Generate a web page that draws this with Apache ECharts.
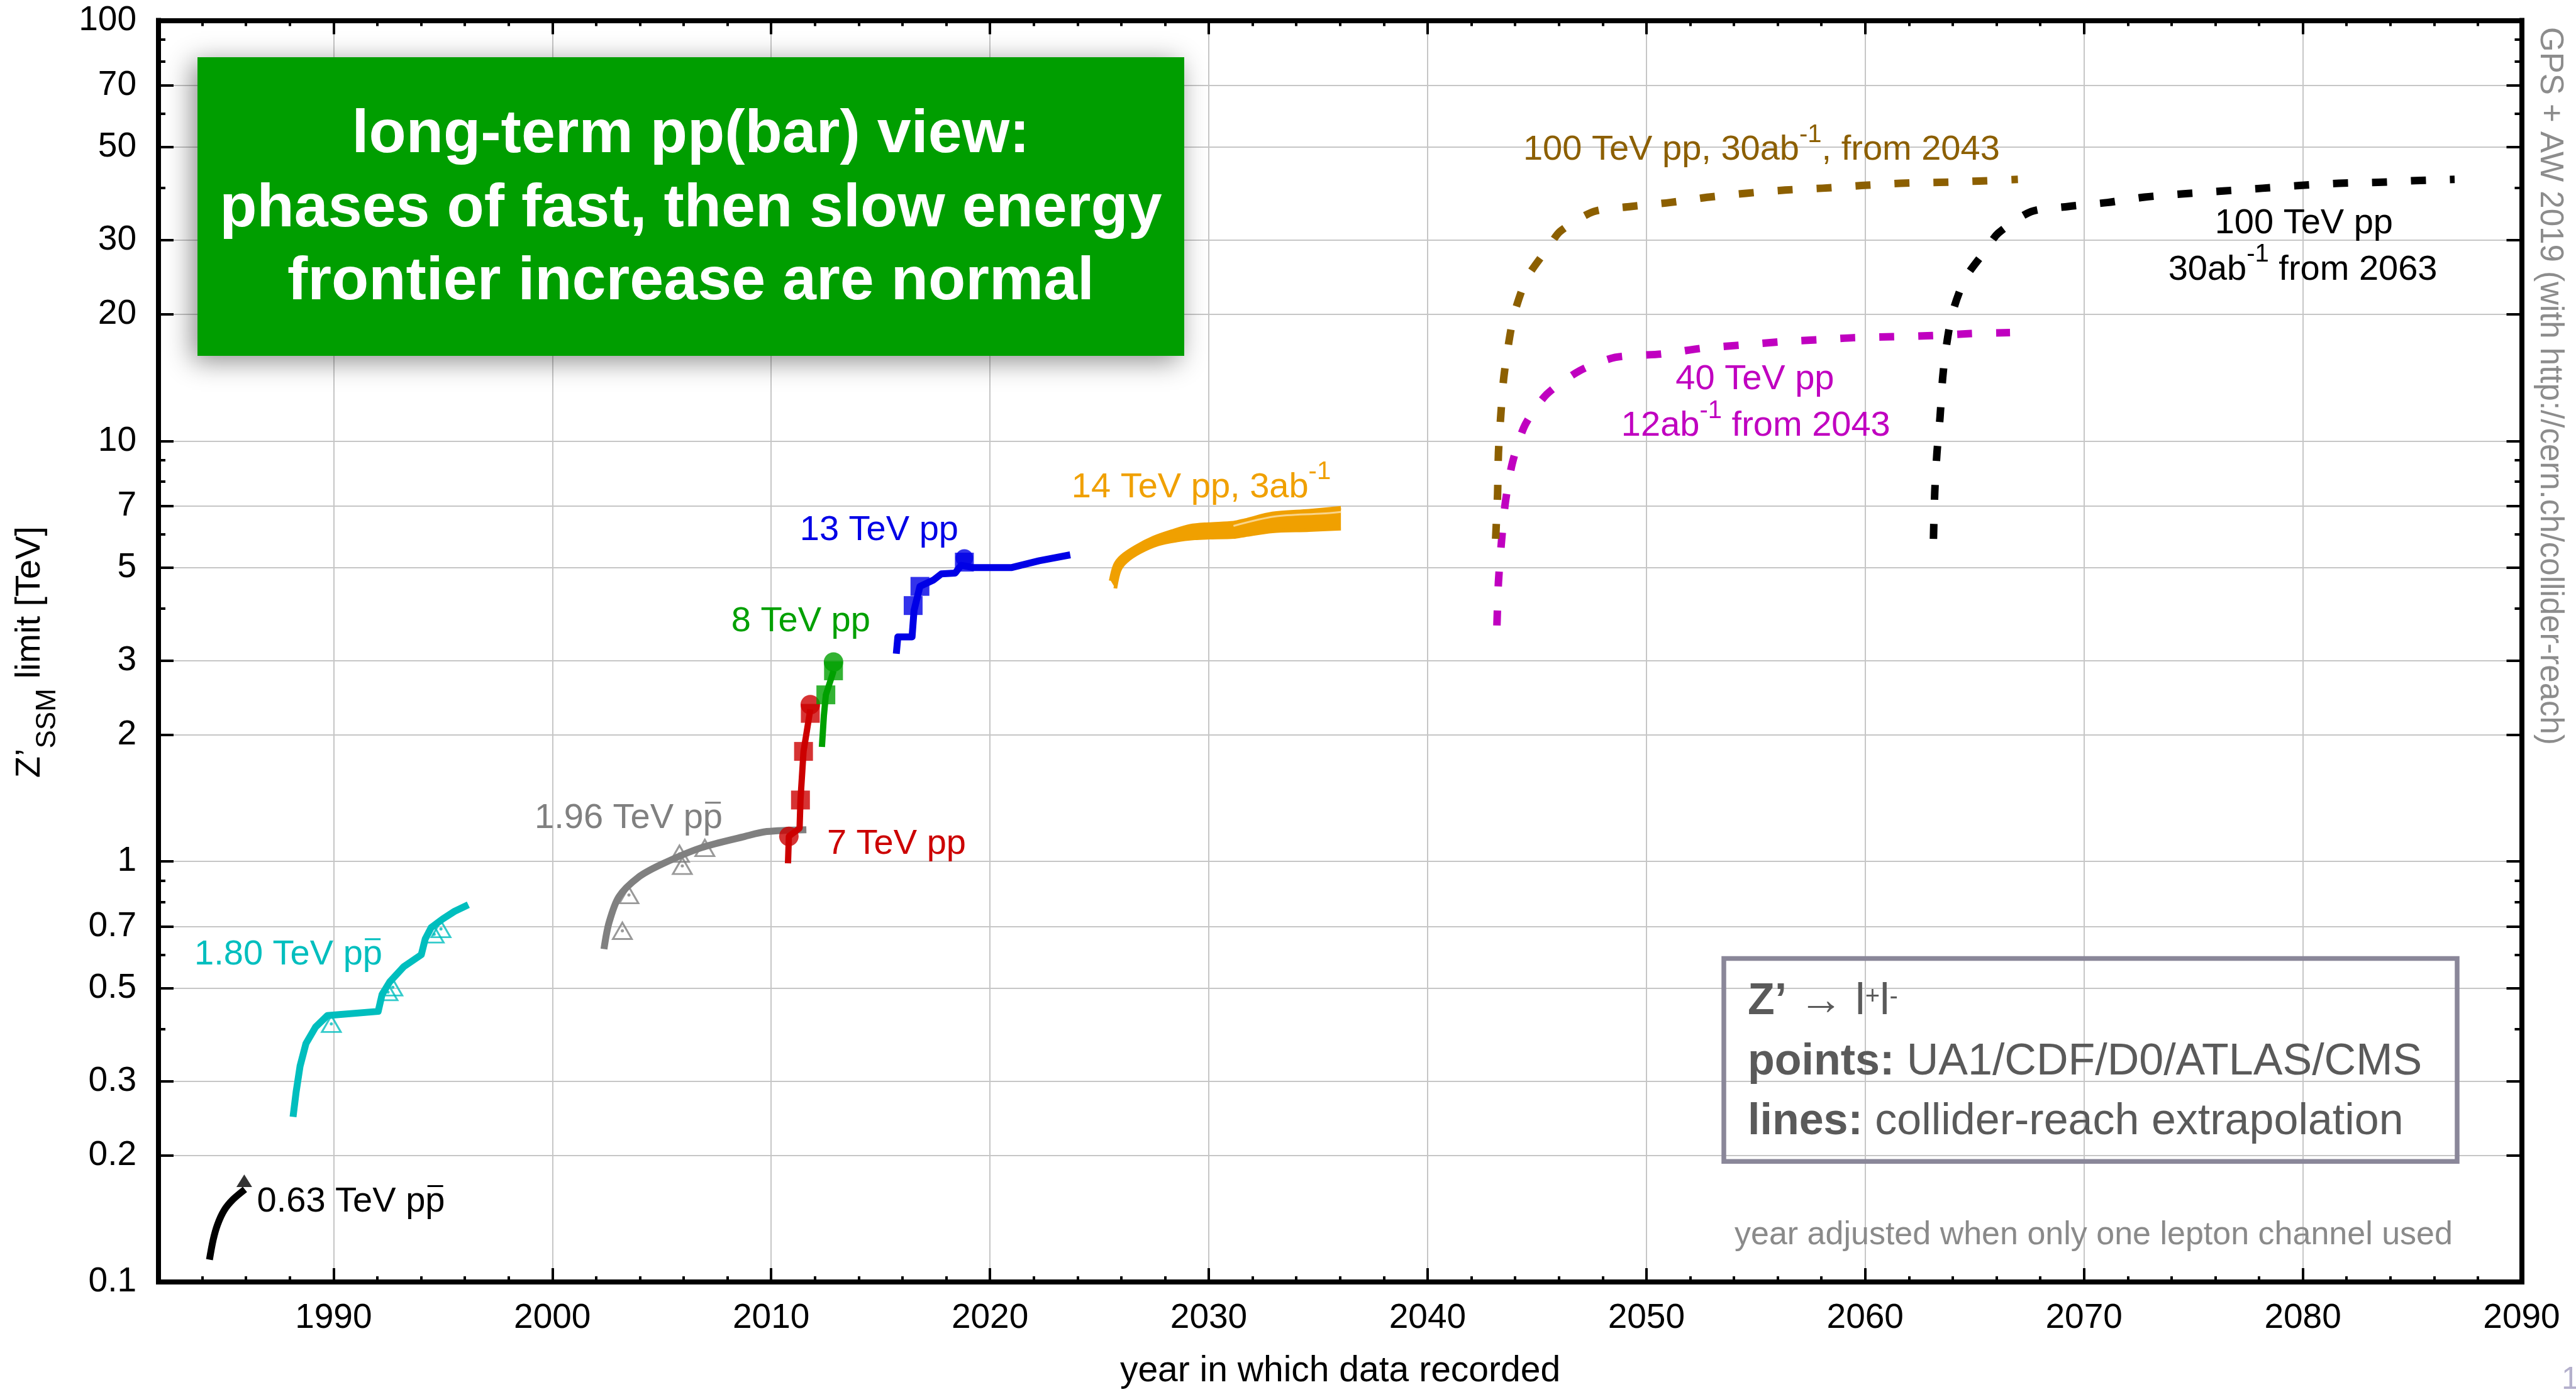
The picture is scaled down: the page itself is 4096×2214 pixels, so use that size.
<!DOCTYPE html>
<html>
<head>
<meta charset="utf-8">
<script src="https://cdn.jsdelivr.net/npm/echarts@6/dist/echarts.min.js"></script>
<style>
  html, body { margin: 0; padding: 0; background: #ffffff; }
  #chart { width: 4096px; height: 2214px; }
</style>
</head>
<body>
<div id="chart"></div>
<script>
// ---------- axis ticks ----------
const yMajorTicks  = [0.1, 0.2, 0.3, 0.5, 0.7, 1, 2, 3, 5, 7, 10, 20, 30, 50, 70, 100];
const yMajorLabels = ['0.1', '0.2', '0.3', '0.5', '0.7', '1', '2', '3', '5', '7', '10', '20', '30', '50', '70', '100'];
const yMinorTicks  = [0.4, 0.6, 0.8, 0.9, 4, 6, 8, 9, 40, 60, 80, 90];
const xMajorTicks  = [1990, 2000, 2010, 2020, 2030, 2040, 2050, 2060, 2070, 2080, 2090];
const xMajorLabels = ['1990', '2000', '2010', '2020', '2030', '2040', '2050', '2060', '2070', '2080', '2090'];
const xMinorTicks  = [1984, 1986, 1988, 1992, 1994, 1996, 1998, 2002, 2004, 2006, 2008,
                      2012, 2014, 2016, 2018, 2022, 2024, 2026, 2028, 2032, 2034, 2036, 2038,
                      2042, 2044, 2046, 2048, 2052, 2054, 2056, 2058, 2062, 2064, 2066, 2068,
                      2072, 2074, 2076, 2078, 2082, 2084, 2086, 2088];

// ---------- limits: [year, Z'_SSM limit in TeV] ----------
const sps063 = [[1984.33, 0.113], [1984.5, 0.126], [1984.7, 0.137], [1985.0, 0.148], [1985.4, 0.157], [1985.95, 0.166]];
const sps063Arrow = [[1985.92, 0.174]];

const tev180 = [[1988.15, 0.247], [1988.29, 0.283], [1988.47, 0.326], [1988.74, 0.369], [1989.18, 0.404],
                [1989.72, 0.430], [1992.04, 0.440], [1992.22, 0.483], [1992.58, 0.518], [1993.21, 0.562],
                [1994.01, 0.600], [1994.19, 0.654], [1994.46, 0.696], [1994.99, 0.730], [1995.53, 0.761],
                [1996.16, 0.789]];
const tev180Points = [[1989.9, 0.411], [1992.49, 0.489], [1992.71, 0.502], [1994.60, 0.671], [1994.91, 0.691]];

const tev196 = [[2002.36, 0.619], [2002.59, 0.715], [2003.04, 0.824], [2003.93, 0.917], [2005.0, 0.985],
                [2006.78, 1.077], [2008.8, 1.147], [2009.8, 1.178], [2011.61, 1.19]];
const tev196Points = [[2003.2, 0.684], [2003.5, 0.832], [2005.94, 0.976], [2005.81, 1.043], [2006.97, 1.077]];

const lhc7 = [[2010.77, 0.99], [2010.81, 1.147], [2011.3, 1.20], [2011.34, 1.40], [2011.48, 1.827], [2011.61, 2.01], [2011.79, 2.30]];
const lhc7Squares = [[2011.34, 1.40], [2011.48, 1.827], [2011.79, 2.25]];
const lhc7Circles = [[2010.81, 1.147], [2011.79, 2.36]];

const lhc8 = [[2012.32, 1.872], [2012.41, 2.22], [2012.50, 2.49], [2012.77, 2.75], [2012.85, 2.84]];
const lhc8Squares = [[2012.50, 2.49], [2012.85, 2.84]];
const lhc8Circles = [[2012.85, 2.98]];

const lhc13 = [[2015.72, 3.12], [2015.79, 3.42], [2016.44, 3.42], [2016.53, 3.95], [2016.80, 4.51],
               [2017.42, 4.67], [2017.78, 4.83], [2018.41, 4.85], [2018.68, 5.06], [2019.21, 5.00],
               [2021.0, 5.00], [2022.25, 5.19], [2023.67, 5.36]];
const lhc13Squares = [[2016.49, 4.06], [2016.80, 4.51], [2018.83, 5.15]];
const lhc13Circles = [[2018.83, 5.27]];

const hl14Upper = [[2025.52, 4.65], [2025.71, 5.07], [2026.02, 5.32], [2026.65, 5.60], [2027.48, 5.89],
                   [2028.32, 6.10], [2029.15, 6.28], [2029.99, 6.34], [2031.13, 6.39], [2031.66, 6.48],
                   [2032.91, 6.72], [2034.58, 6.82], [2036.04, 6.93]];
const hl14Lower = [[2025.73, 4.46], [2025.92, 4.92], [2026.23, 5.17], [2026.86, 5.44], [2027.69, 5.68],
                   [2028.53, 5.80], [2029.36, 5.87], [2029.99, 5.89], [2031.13, 5.91], [2031.66, 5.97],
                   [2032.91, 6.10], [2034.58, 6.14], [2036.04, 6.19]];
const hl14Inner = [[2031.13, 6.28], [2033.01, 6.61], [2035.2, 6.72], [2036.04, 6.78]];

const fcc100from2043 = [[2043.11, 5.85], [2043.20, 7.48], [2043.24, 9.38], [2043.34, 11.38], [2043.47, 13.94],
                        [2043.65, 16.37], [2043.95, 19.95], [2044.54, 24.4], [2045.53, 28.9], [2046.06, 31.5],
                        [2047.58, 35.1], [2049.28, 36.1], [2051.07, 36.9], [2052.86, 38.0], [2054.55, 38.8],
                        [2056.34, 39.5], [2058.04, 39.9], [2059.83, 40.5], [2061.62, 41.0], [2063.40, 41.2],
                        [2065.19, 41.5], [2066.98, 41.9]];
const pp40from2043 = [[2043.17, 3.64], [2043.24, 4.62], [2043.38, 5.78], [2043.56, 7.17], [2043.88, 8.88],
                      [2044.45, 10.9], [2045.44, 12.9], [2046.96, 14.7], [2048.57, 15.8], [2050.71, 16.1],
                      [2052.50, 16.6], [2054.29, 16.9], [2056.08, 17.2], [2057.86, 17.4], [2059.47, 17.6],
                      [2061.26, 17.7], [2063.05, 17.8], [2064.83, 18.0], [2066.62, 18.1]];
const fcc100from2063 = [[2063.12, 5.85], [2063.18, 7.56], [2063.28, 9.37], [2063.42, 11.37], [2063.54, 14.1],
                        [2063.68, 16.4], [2063.98, 20.1], [2064.58, 24.4], [2065.48, 28.3], [2066.08, 31.2],
                        [2067.58, 35.1], [2069.27, 36.1], [2071.07, 36.9], [2072.77, 38.0], [2074.56, 38.7],
                        [2076.36, 39.3], [2078.16, 39.9], [2079.85, 40.5], [2081.65, 41.0], [2083.44, 41.2],
                        [2085.14, 41.6], [2086.94, 41.9]];

// ---------- styling ----------
const FONT = '"Liberation Sans", Arial, Helvetica, sans-serif';
const C = {
  black: '#000000', cyan: '#00bebe', gray: '#808080', red: '#cc0000', green: '#00a000',
  blue: '#0000e6', orange: '#f0a000', orangeLight: '#f9d48a', brown: '#8c5f00', magenta: '#c000c0'
};
const GRID = { left: 252, right: 86.5, top: 32.5, bottom: 175 };
const AXIS_W = 8;

function fontStr(size, bold) { return (bold ? 'bold ' : '') + size + 'px ' + FONT; }
const measureCtx = document.createElement('canvas').getContext('2d');
function textW(s, size, bold) { measureCtx.font = fontStr(size, bold); return measureCtx.measureText(s).width; }

function makeXAxis(position, ticks, tickLen, labels, line, split) {
  return {
    type: 'value', min: 1982, max: 2090, position: position,
    axisLine: { show: line, onZero: false, lineStyle: { color: '#000', width: AXIS_W, cap: 'square' } },
    axisTick: { show: true, inside: true, length: tickLen, customValues: ticks, lineStyle: { color: '#000', width: 4 } },
    axisLabel: labels ? {
      show: true, customValues: ticks, margin: 30, fontSize: 55, fontFamily: FONT, color: '#000',
      formatter: function (v) { const i = xMajorTicks.indexOf(Math.round(v)); return i >= 0 ? xMajorLabels[i] : ''; }
    } : { show: false },
    splitLine: { show: split, lineStyle: { color: '#c6c6c6', width: 2 } },
    minorTick: { show: false }, minorSplitLine: { show: false }
  };
}
function makeYAxis(position, ticks, tickLen, labels, line, split) {
  return {
    type: 'log', logBase: 10, min: 0.1, max: 100, position: position,
    axisLine: { show: line, onZero: false, lineStyle: { color: '#000', width: AXIS_W, cap: 'square' } },
    axisTick: { show: true, inside: true, length: tickLen, customValues: ticks, lineStyle: { color: '#000', width: 4 } },
    axisLabel: labels ? {
      show: true, customValues: ticks, margin: 35, fontSize: 55, fontFamily: FONT, color: '#000',
      formatter: function (v) {
        const i = yMajorTicks.findIndex(t => Math.abs(Math.log10(t) - Math.log10(v)) < 1e-6);
        return i >= 0 ? yMajorLabels[i] : '';
      }
    } : { show: false },
    splitLine: { show: split, lineStyle: { color: '#c6c6c6', width: 2 } },
    minorTick: { show: false }, minorSplitLine: { show: false }
  };
}

function lineSeries(data, color, width, extra) {
  return Object.assign({
    type: 'line', data: data, symbol: 'none', showSymbol: false, silent: true, z: 3,
    lineStyle: { color: color, width: width, cap: 'butt', join: 'round' }
  }, extra || {});
}
function dashedSeries(data, color) {
  return lineSeries(data, color, 12, { smooth: 0.25, lineStyle: { color: color, width: 12, type: [24, 38], cap: 'butt', join: 'round' } });
}
function markerSeries(data, symbol, size, itemStyle, z) {
  return { type: 'scatter', data: data, symbol: symbol, symbolSize: size, silent: true, z: z || 5, itemStyle: itemStyle };
}
function triangleSeries(data, color) {
  return [
    markerSeries(data, 'triangle', [30, 26], { color: 'rgba(0,0,0,0)', borderColor: color, borderWidth: 3 }, 5),
    markerSeries(data, 'circle', 5, { color: color }, 6)
  ];
}

const series = [
  // 14 TeV band
  {
    type: 'custom', silent: true, z: 2, data: [[2030, 6]],
    renderItem: function (params, api) {
      const pts = hl14Upper.map(p => api.coord(p)).concat(hl14Lower.slice().reverse().map(p => api.coord(p)));
      return { type: 'polygon', shape: { points: pts }, style: { fill: C.orange } };
    }
  },
  lineSeries(hl14Upper, C.orange, 6, { smooth: 0.3 }),
  lineSeries(hl14Lower, C.orange, 6, { smooth: 0.3 }),
  lineSeries(hl14Inner, C.orangeLight, 3, { smooth: 0.3, z: 4 }),

  // Tevatron and SppS
  lineSeries(sps063, C.black, 11, { smooth: 0.3 }),
  markerSeries(sps063Arrow, 'triangle', [25, 20], { color: C.black }),
  lineSeries(tev180, C.cyan, 11),
  ...triangleSeries(tev180Points, C.cyan),
  lineSeries(tev196, C.gray, 11, { smooth: 0.3 }),
  ...triangleSeries(tev196Points, C.gray),

  // LHC
  lineSeries(lhc7, C.red, 10),
  markerSeries(lhc7Circles, 'circle', 31, { color: C.red }),
  markerSeries(lhc7Squares, 'rect', 30, { color: C.red }),
  lineSeries(lhc8, C.green, 10),
  markerSeries(lhc8Circles, 'circle', 31, { color: C.green }),
  markerSeries(lhc8Squares, 'rect', 30, { color: C.green }),
  lineSeries(lhc13, C.blue, 11),
  markerSeries(lhc13Circles, 'circle', 28, { color: C.blue }),
  markerSeries(lhc13Squares, 'rect', 30, { color: C.blue }),

  // future colliders
  dashedSeries(pp40from2043, C.magenta),
  dashedSeries(fcc100from2043, C.brown),
  dashedSeries(fcc100from2063, C.black)
];

const chart = echarts.init(document.getElementById('chart'), null, { renderer: 'canvas', width: 4096, height: 2214 });

chart.setOption({
  animation: false,
  backgroundColor: '#ffffff',
  grid: Object.assign({ containLabel: false, outerBoundsMode: 'none' }, GRID),
  xAxis: [
    makeXAxis('bottom', xMajorTicks, 22, true, true, true),
    makeXAxis('bottom', xMinorTicks, 9, false, false, false),
    makeXAxis('top', xMajorTicks, 22, false, true, false),
    makeXAxis('top', xMinorTicks, 9, false, false, false)
  ],
  yAxis: [
    makeYAxis('left', yMajorTicks, 24, true, true, true),
    makeYAxis('left', yMinorTicks, 11, false, false, false),
    makeYAxis('right', yMajorTicks, 24, false, true, false),
    makeYAxis('right', yMinorTicks, 11, false, false, false)
  ],
  series: series
});

// ---------- text annotations ----------
// parts: {t, bold, size, dy, bar}; bar draws an overline (antiparticle)
function textRun(parts, x, y, size, color, align, z) {
  const ws = parts.map(p => textW(p.t, p.size || size, p.bold));
  const total = ws.reduce((a, b) => a + b, 0);
  let cx = align === 'center' ? x - total / 2 : (align === 'right' ? x - total : x);
  const out = [];
  parts.forEach((p, i) => {
    const s = p.size || size;
    out.push({
      type: 'text', x: cx, y: y + (p.dy || 0), z: z || 60, silent: true,
      style: { text: p.t, font: fontStr(s, p.bold), fill: color,
               align: 'left', verticalAlign: 'middle', textAlign: 'left', textVerticalAlign: 'middle' }
    });
    if (p.bar) {
      out.push({
        type: 'line', z: z || 60, silent: true,
        shape: { x1: cx + 0.06 * s, y1: y - 0.45 * s, x2: cx + ws[i] - 0.05 * s, y2: y - 0.45 * s },
        style: { stroke: color, lineWidth: 3 }
      });
    }
    cx += ws[i];
  });
  return out;
}

const LBL = 56;
const SUP = { size: 40, dy: -24 };
const annotations = [
  { parts: [{ t: '0.63 TeV p' }, { t: 'p', bar: true }], at: [1986.5, 0.155], align: 'left', color: C.black },
  { parts: [{ t: '1.80 TeV p' }, { t: 'p', bar: true }], at: [1983.64, 0.599], align: 'left', color: C.cyan },
  { parts: [{ t: '1.96 TeV p' }, { t: 'p', bar: true }], at: [1999.19, 1.265], align: 'left', color: C.gray },
  { parts: [{ t: '7 TeV pp' }], at: [2012.55, 1.10], align: 'left', color: C.red },
  { parts: [{ t: '8 TeV pp' }], at: [2008.18, 3.72], align: 'left', color: C.green },
  { parts: [{ t: '13 TeV pp' }], at: [2011.31, 6.12], align: 'left', color: C.blue },
  { parts: [{ t: '14 TeV pp, 3ab' }, Object.assign({ t: '-1' }, SUP)], at: [2023.73, 7.75], align: 'left', color: C.orange },
  { parts: [{ t: '100 TeV pp, 30ab' }, Object.assign({ t: '-1' }, SUP), { t: ', from 2043' }], at: [2044.37, 49.2], align: 'left', color: C.brown },
  { parts: [{ t: '40 TeV pp' }], at: [2054.96, 13.98], align: 'center', color: C.magenta },
  { parts: [{ t: '12ab' }, Object.assign({ t: '-1' }, SUP), { t: ' from 2043' }], at: [2055.0, 10.85], align: 'center', color: C.magenta },
  { parts: [{ t: '100 TeV pp' }], at: [2080.05, 32.9], align: 'center', color: C.black },
  { parts: [{ t: '30ab' }, Object.assign({ t: '-1' }, SUP), { t: ' from 2063' }], at: [2080.0, 25.5], align: 'center', color: C.black }
];

let graphics = [];
annotations.forEach(a => {
  const p = chart.convertToPixel({ xAxisIndex: 0, yAxisIndex: 0 }, a.at);
  graphics = graphics.concat(textRun(a.parts, p[0], p[1], LBL, a.color, a.align));
});

// axis titles
graphics.push({
  type: 'group', x: 48, y: 1037, rotation: Math.PI / 2, silent: true,
  children: textRun([{ t: 'Z’' }, { t: 'SSM', size: 44, dy: 28 }, { t: ' limit [TeV]' }], 0, 0, 56, '#000', 'center')
});
graphics = graphics.concat(textRun([{ t: 'year in which data recorded' }], 2131, 2181, 57, '#000', 'center'));

// credit along the right edge
graphics.push({
  type: 'group', x: 4054, y: 614, rotation: -Math.PI / 2, silent: true,
  children: textRun([{ t: 'GPS + AW 2019 (with http://cern.ch/collider-reach)' }], 0, 0, 51, '#8c8c8c', 'center')
});
// page number
graphics = graphics.concat(textRun([{ t: '1' }], 4073, 2195, 50, '#b4b0cc', 'left'));

// headline box
graphics.push({
  type: 'rect', z: 80, silent: true,
  shape: { x: 314, y: 91, width: 1569, height: 475 },
  style: { fill: '#009e00', shadowBlur: 40, shadowColor: 'rgba(0,0,0,0.45)', shadowOffsetX: -8, shadowOffsetY: 8 }
});
['long-term pp(bar) view:', 'phases of fast, then slow energy', 'frontier increase are normal'].forEach((line, i) => {
  graphics = graphics.concat(textRun([{ t: line, bold: true }], 1098.5, [215, 333, 449][i], 97, '#ffffff', 'center', 90));
});

// key box
graphics.push({
  type: 'rect', z: 70, silent: true,
  shape: { x: 2741, y: 1524.6, width: 1166, height: 322.7 },
  style: { fill: 'none', stroke: '#8a8799', lineWidth: 7.5 }
});
const KEY = '#5a5a5a';
graphics = graphics.concat(
  textRun([{ t: 'Z’', bold: true }, { t: ' → l' }, { t: '+', size: 40, dy: -8 }, { t: 'l' }, { t: '-', size: 40, dy: -8 }], 2779, 1594, 70, KEY, 'left'),
  textRun([{ t: 'points:', bold: true }, { t: ' UA1/CDF/D0/ATLAS/CMS' }], 2779, 1690, 70, KEY, 'left'),
  textRun([{ t: 'lines:', bold: true }, { t: ' collider-reach extrapolation' }], 2779, 1785, 70, KEY, 'left'),
  textRun([{ t: 'year adjusted when only one lepton channel used' }], 2758, 1965, 52, '#8a8a8a', 'left')
);

chart.setOption({ graphic: { elements: graphics } });
</script>
</body>
</html>
